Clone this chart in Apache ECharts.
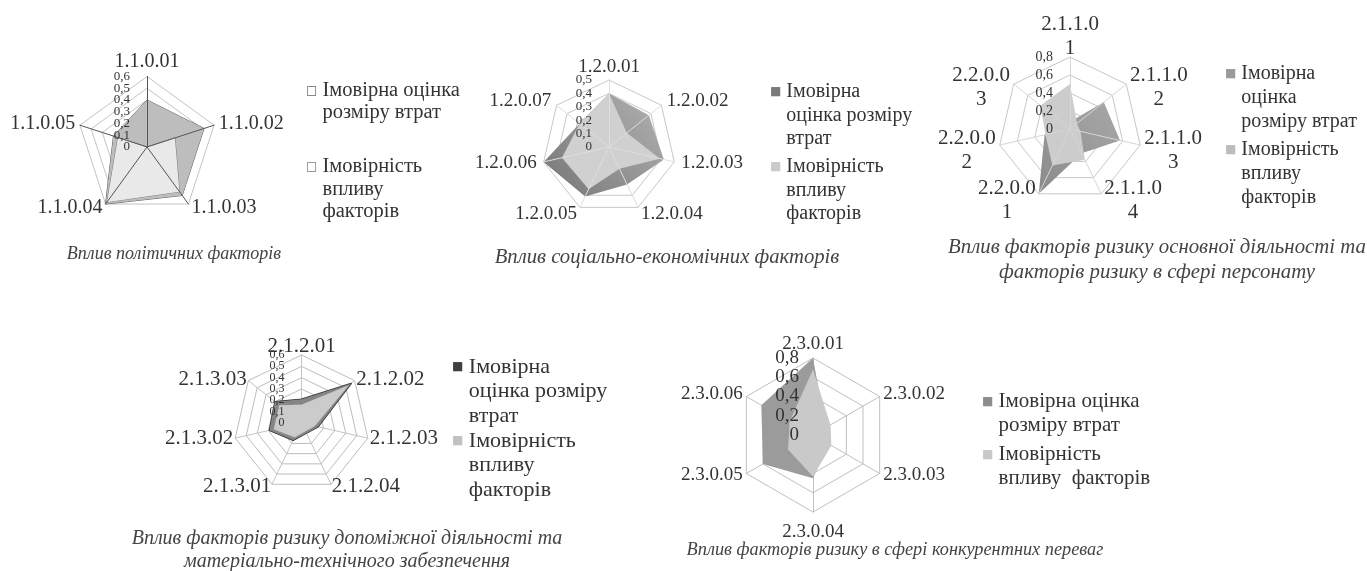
<!DOCTYPE html>
<html>
<head>
<meta charset="utf-8">
<script src="https://cdn.jsdelivr.net/npm/echarts@6/dist/echarts.min.js"></script>
<style>
html,body{margin:0;padding:0;background:#fff;}
#c{width:1367px;height:571px;}
</style>
</head>
<body>
<div id="c"></div>
<script>
// ---------------- DATA ----------------
const seriesNames = ['Імовірна оцінка розміру втрат', 'Імовірність впливу факторів'];

// Chart 1 – political factors
const cat1   = ['1.1.0.01', '1.1.0.02', '1.1.0.03', '1.1.0.04', '1.1.0.05'];
const ticks1 = [0, 0.1, 0.2, 0.3, 0.4, 0.5, 0.6];
const loss1  = [0.40, 0.51, 0.51, 0.60, 0.30];
const prob1  = [0.00, 0.25, 0.47, 0.58, 0.26];

// Chart 2 – socio-economic factors
const cat2   = ['1.2.0.01', '1.2.0.02', '1.2.0.03', '1.2.0.04', '1.2.0.05', '1.2.0.06', '1.2.0.07'];
const ticks2 = [0, 0.1, 0.2, 0.3, 0.4, 0.5];
const loss2  = [0.40, 0.38, 0.42, 0.31, 0.41, 0.50, 0.28];
const prob2  = [0.40, 0.17, 0.39, 0.18, 0.35, 0.36, 0.28];

// Chart 3 – main activity & personnel
const cat3   = ['2.1.1.01', '2.1.1.02', '2.1.1.03', '2.1.1.04', '2.2.0.01', '2.2.0.02', '2.2.0.03'];
const ticks3 = [0, 0.2, 0.4, 0.6, 0.8];
const loss3  = [0.08, 0.48, 0.57, 0.30, 0.80, 0.29, 0.10];
const prob3  = [0.50, 0.10, 0.12, 0.38, 0.45, 0.28, 0.42];

// Chart 4 – auxiliary activity & logistics
const cat4   = ['2.1.2.01', '2.1.2.02', '2.1.2.03', '2.1.2.04', '2.1.3.01', '2.1.3.02', '2.1.3.03'];
const ticks4 = [0, 0.1, 0.2, 0.3, 0.4, 0.5, 0.6];
const loss4  = [0.21, 0.56, 0.15, 0.10, 0.17, 0.29, 0.30];
const prob4  = [0.16, 0.53, 0.12, 0.08, 0.14, 0.25, 0.25];

// Chart 5 – competitive advantages
const cat5   = ['2.3.0.01', '2.3.0.02', '2.3.0.03', '2.3.0.04', '2.3.0.05', '2.3.0.06'];
const ticks5 = [0, 0.2, 0.4, 0.6, 0.8];
const loss5  = [0.80, 0.15, 0.18, 0.45, 0.60, 0.62];
const prob5  = [0.68, 0.21, 0.22, 0.43, 0.30, 0.28];

// Legend line breaks (as in the source figure)
const wrap1 = [['Імовірна оцінка', 'розміру втрат'], ['Імовірність', 'впливу', 'факторів']];
const wrap2 = [['Імовірна', 'оцінка розміру', 'втрат'], ['Імовірність', 'впливу', 'факторів']];
const wrap3 = [['Імовірна', 'оцінка', 'розміру втрат'], ['Імовірність', 'впливу', 'факторів']];
const wrap4 = [['Імовірна', 'оцінка розміру', 'втрат'], ['Імовірність', 'впливу', 'факторів']];
const wrap5 = [['Імовірна оцінка', 'розміру втрат'], ['Імовірність', 'впливу  факторів']];

// Captions
const title1 = ['Вплив політичних факторів'];
const title2 = ['Вплив соціально-економічних факторів'];
const title3 = ['Вплив факторів ризику основної діяльності та', 'факторів ризику в сфері персонату'];
const title4 = ['Вплив факторів ризику допоміжної діяльності та', 'матеріально-технічного забезпечення'];
const title5 = ['Вплив факторів ризику в сфері конкурентних переваг'];

// ---------------- STYLE / LAYOUT ----------------
const SERIF = '"Liberation Serif", "Times New Roman", serif';
const grad = (a, b) => new echarts.graphic.LinearGradient(1, 0, 0, 1, [{offset: 0, color: a}, {offset: 1, color: b}]);

const CHARTS = [
  {cats: cat1, ticks: ticks1, loss: loss1, prob: prob1, wrap: wrap1, title: title1,
   s: {center: [147, 147], r: 70.5, nameGap: 5, gapFix: {}, nameSize: 20, tickSize: 13, tickMargin: 17,
       ring: '#c4c4c4', spoke: '#555555', spokesOnTop: true,
       lossArea: '#bdbdbd', lossLine: '#5a5a5a', lossLineW: 1,
       probArea: '#e9e9e9', probLine: '#7a7a7a', probLineW: 1,
       legend: {left: 301, top: 80, gap: 33, size: 20.5, lh: 22.5, glyph: '□', colors: ['#666', '#777']},
       titlePos: [174, 254], titleSize: 18, titleLH: 23}},
  {cats: cat2, ticks: ticks2, loss: loss2, prob: prob2, wrap: wrap2, title: title2,
   s: {center: [609, 147], r: 67, nameGap: 7, gapFix: {'1.2.0.01': 3}, nameSize: 19, tickSize: 13, tickMargin: 17,
       ring: '#c8c8c8', spoke: '#dedede', spokesOnTop: true,
       lossArea: grad('#b2b2b2', '#767676'), lossLine: 'rgba(0,0,0,0)', lossLineW: 0,
       probArea: '#d0d0d0', probLine: 'rgba(0,0,0,0)', probLineW: 0,
       legend: {left: 765, top: 82, gap: 8, size: 20, lh: 23.5, glyph: '■', colors: ['#7a7a7a', '#cacaca']},
       titlePos: [667, 258], titleSize: 20.7, titleLH: 25}},
  {cats: cat3, ticks: ticks3, loss: loss3, prob: prob3, wrap: wrap3, title: title3,
   s: {center: [1070, 129], r: 72, nameGap: 2, gapFix: {'2.1.1.01': 2}, nameSize: 21, tickSize: 14, tickMargin: 17, wrapNames: true,
       ring: '#c8c8c8', spoke: '#d6d6d6', spokesOnTop: true,
       lossArea: grad('#a8a8a8', '#8a8a8a'), lossLine: 'rgba(0,0,0,0)', lossLineW: 0,
       probArea: '#cccccc', probLine: 'rgba(0,0,0,0)', probLineW: 0,
       legend: {left: 1220, top: 64, gap: 8, size: 20, lh: 24, glyph: '■', colors: ['#9a9a9a', '#bcbcbc']},
       titlePos: [1157, 260], titleSize: 20.8, titleLH: 25}},
  {cats: cat4, ticks: ticks4, loss: loss4, prob: prob4, wrap: wrap4, title: title4,
   s: {center: [301.5, 423], r: 68, nameGap: 2, gapFix: {'2.1.2.01': -2}, nameSize: 21, tickSize: 12, tickMargin: 17,
       ring: '#bdbdbd', spoke: '#c4c4c4', spokesOnTop: false,
       lossArea: '#858585', lossLine: '#333333', lossLineW: 1.5,
       probArea: '#cbcbcb', probLine: '#aaaaaa', probLineW: 0.5,
       legend: {left: 447, top: 356, gap: 3, size: 22, lh: 24.5, glyph: '■', colors: ['#404040', '#c0c0c0']},
       titlePos: [347, 550], titleSize: 20, titleLH: 23}},
  {cats: cat5, ticks: ticks5, loss: loss5, prob: prob5, wrap: wrap5, title: title5,
   s: {center: [813, 435], r: 77, nameGap: 4, gapFix: {'2.3.0.04': 11}, nameSize: 19, tickSize: 19, tickMargin: 14,
       ring: '#c0c0c0', spoke: '#c0c0c0', spokesOnTop: false,
       lossArea: '#9b9b9b', lossLine: 'rgba(0,0,0,0)', lossLineW: 0,
       probArea: '#c9c9c9', probLine: 'rgba(0,0,0,0)', probLineW: 0,
       legend: {left: 977, top: 391, gap: 8, size: 21, lh: 24, glyph: '■', colors: ['#8c8c8c', '#c8c8c8']},
       titlePos: [895, 550], titleSize: 18.3, titleLH: 23}}
];

// Excel radar goes clockwise; ECharts goes counter-clockwise -> keep first, reverse the rest
function reorder(a) { return [a[0]].concat(a.slice(1).reverse()); }
function fmtTick(v) { return String(+(+v).toFixed(3)).replace('.', ','); }

const radars = [], series = [], legends = [], graphics = [];

CHARTS.forEach(function (ch, k) {
  const s = ch.s;
  const ord = reorder(ch.cats);
  const max = ch.ticks[ch.ticks.length - 1];
  const step = ch.ticks[1] - ch.ticks[0];
  const base = {
    center: s.center, radius: s.r, startAngle: 90, shape: 'polygon',
    splitNumber: ch.ticks.length - 1, nameGap: s.nameGap, silent: true,
    splitArea: {show: false}, axisTick: {show: false}
  };
  const nameStyle = {show: true, color: '#333', fontFamily: SERIF, fontSize: s.nameSize};
  if (s.wrapNames) {
    nameStyle.formatter = function (v) { return '{a|' + v.slice(0, -1) + '}\n{a|' + v.slice(-1) + '}'; };
    nameStyle.rich = {a: {width: 62, align: 'center', fontFamily: SERIF, fontSize: s.nameSize, lineHeight: 24, color: '#333', padding: [10, 0, 0, 0]}};
  }
  const r0 = radars.length;
  radars.push(Object.assign({}, base, {
    z: 0,
    indicator: ord.map(function (n) {
      const ind = {name: n, min: 0, max: max};
      if (s.gapFix[n] != null) ind.nameGap = s.gapFix[n];
      return ind;
    }),
    axisName: nameStyle,
    axisLine: {show: !s.spokesOnTop, lineStyle: {color: s.spoke, width: 1}},
    splitLine: {show: true, lineStyle: {color: s.ring, width: 1}},
    axisLabel: {show: false}
  }));
  // two overlay radars carry the tick labels (alternating ticks, so the library
  // does not drop the crowded neighbours of the min / max labels)
  [0, 1].forEach(function (parity) {
    radars.push(Object.assign({}, base, {
      z: 3,
      indicator: ord.map(function (n, i) { return i === 0 ? {name: n, min: 0, max: max, axisLabel: {show: true}} : {name: n, min: 0, max: max}; }),
      axisName: {show: false},
      axisLine: {show: parity === 0 && !!s.spokesOnTop, lineStyle: {color: s.spoke, width: 1}},
      splitLine: {show: false},
      axisLabel: {show: false, showMinLabel: true, showMaxLabel: true, hideOverlap: false,
                  color: '#333', fontFamily: SERIF, fontSize: s.tickSize, margin: s.tickMargin,
                  formatter: function (v) { return Math.round(v / step) % 2 === parity ? fmtTick(v) : ''; }}
    }));
  });

  [[ch.loss, s.lossArea, s.lossLine, s.lossLineW, s.legend.colors[0]],
   [ch.prob, s.probArea, s.probLine, s.probLineW, s.legend.colors[1]]].forEach(function (d, j) {
    series.push({
      type: 'radar', radarIndex: r0, symbol: 'none', silent: true, z: 2,
      data: [{
        name: seriesNames[j], value: reorder(d[0]),
        areaStyle: {color: d[1], opacity: 1},
        lineStyle: {color: d[2], width: d[3]},
        itemStyle: {color: d[4]}
      }]
    });
  });

  const L = s.legend;
  const rich = {
    m0: {color: L.colors[0], fontFamily: 'DejaVu Sans', fontSize: 12, lineHeight: L.lh},
    m1: {color: L.colors[1], fontFamily: 'DejaVu Sans', fontSize: 12, lineHeight: L.lh},
    h:  {color: 'rgba(0,0,0,0)', fontFamily: 'DejaVu Sans', fontSize: 12, lineHeight: L.lh},
    t:  {color: '#333', fontFamily: SERIF, fontSize: L.size, lineHeight: L.lh}
  };
  legends.push({
    orient: 'vertical', left: L.left, top: L.top, padding: 0, itemGap: L.gap,
    itemWidth: 0, itemHeight: 0, selectedMode: false,
    data: seriesNames.slice(),
    formatter: function (name) {
      const idx = seriesNames.indexOf(name);
      return ch.wrap[idx].map(function (ln, j) {
        return (j === 0 ? '{m' + idx + '|' + L.glyph + '}' : '{h|' + L.glyph + '}') + '{t| ' + ln + '}';
      }).join('\n');
    },
    textStyle: {rich: rich}
  });

  graphics.push({
    type: 'text', x: s.titlePos[0], y: s.titlePos[1], silent: true,
    style: {
      text: ch.title.join('\n'), align: 'center', verticalAlign: 'middle',
      fontFamily: SERIF, fontStyle: 'italic', fontSize: s.titleSize, lineHeight: s.titleLH, fill: '#444'
    }
  });
});

const chart = echarts.init(document.getElementById('c'), null, {renderer: 'canvas'});
chart.setOption({
  animation: false,
  backgroundColor: '#ffffff',
  radar: radars,
  legend: legends,
  series: series,
  graphic: graphics
});
</script>
</body>
</html>
